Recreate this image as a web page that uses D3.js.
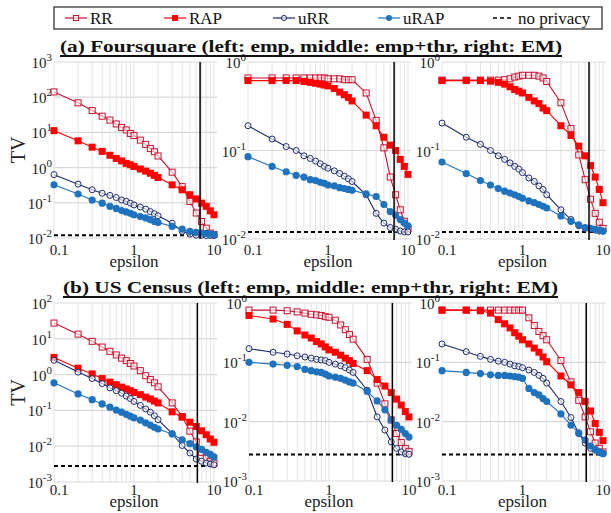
<!DOCTYPE html>
<html>
<head>
<meta charset="utf-8">
<script src="https://cdn.jsdelivr.net/npm/d3@7"></script>
<style>
  body { margin: 0; background: #fff; }
</style>
</head>
<body>
<div id="chart"></div>
<script>
// epsilon values on the x axis
const epsilons = [0.1, 0.2, 0.3, 0.4, 0.5, 0.6, 0.7, 0.8, 0.9, 1.0, 1.2, 1.4, 1.6, 1.8, 2.0, 3, 4, 5, 6, 7, 8, 9, 10]
const xTickLabels = ['0.1', '1', '10']
const seriesNames = ['RR', 'RAP', 'uRR', 'uRAP']
const titles = ['(a) Foursquare (left: emp, middle: emp+thr, right: EM)', '(b) US Census (left: emp, middle: emp+thr, right: EM)']

// TV values, stored as log10(TV)
// Foursquare, emp
const fsEmpRR   = [2.15, 1.84, 1.62, 1.46, 1.35, 1.24, 1.14, 1.07, 0.97, 0.91, 0.78, 0.66, 0.54, 0.45, 0.33, -0.13, -0.54, -0.96, -1.29, -1.53, -1.72, -1.86, -1.9]
const fsEmpRAP  = [1.05, 0.76, 0.58, 0.46, 0.35, 0.26, 0.19, 0.12, 0.08, 0.03, -0.04, -0.1, -0.16, -0.22, -0.28, -0.49, -0.63, -0.77, -0.89, -1.01, -1.1, -1.23, -1.34]
const fsEmpURR  = [-0.2, -0.47, -0.63, -0.73, -0.79, -0.85, -0.92, -0.96, -1.01, -1.06, -1.12, -1.18, -1.25, -1.31, -1.37, -1.58, -1.81, -1.89, -1.92, -1.92, -1.93, -1.93, -1.93]
const fsEmpURAP = [-0.49, -0.75, -0.92, -1.01, -1.1, -1.16, -1.22, -1.26, -1.3, -1.34, -1.39, -1.43, -1.48, -1.53, -1.56, -1.67, -1.75, -1.81, -1.84, -1.86, -1.87, -1.88, -1.9]
// Foursquare, emp+thr
const fsThrRR   = [-0.18, -0.18, -0.18, -0.18, -0.18, -0.18, -0.18, -0.18, -0.18, -0.19, -0.19, -0.19, -0.2, -0.2, -0.2, -0.35, -0.66, -0.97, -1.3, -1.5, -1.67, -1.8, -1.88]
const fsThrRAP  = [-0.21, -0.21, -0.21, -0.21, -0.22, -0.23, -0.24, -0.25, -0.26, -0.27, -0.3, -0.34, -0.37, -0.4, -0.44, -0.6, -0.72, -0.85, -0.94, -1.0, -1.1, -1.18, -1.27]
const fsThrURR  = [-0.72, -0.87, -0.955, -1.0, -1.06, -1.09, -1.12, -1.15, -1.18, -1.2, -1.23, -1.26, -1.29, -1.32, -1.35, -1.5, -1.71, -1.82, -1.87, -1.89, -1.91, -1.92, -1.92]
const fsThrURAP = [-1.07, -1.18, -1.24, -1.28, -1.3, -1.33, -1.34, -1.36, -1.37, -1.39, -1.4, -1.42, -1.43, -1.44, -1.45, -1.49, -1.52, -1.61, -1.69, -1.73, -1.78, -1.82, -1.85]
// Foursquare, EM
const fsEmRR    = [-0.205, -0.205, -0.205, -0.205, -0.205, -0.2, -0.19, -0.17, -0.16, -0.15, -0.15, -0.15, -0.16, -0.18, -0.22, -0.46, -0.75, -1.05, -1.33, -1.55, -1.71, -1.81, -1.88]
const fsEmRAP   = [-0.21, -0.21, -0.21, -0.217, -0.23, -0.25, -0.28, -0.31, -0.33, -0.35, -0.4, -0.44, -0.47, -0.52, -0.55, -0.72, -0.83, -0.95, -1.06, -1.17, -1.3, -1.44, -1.59]
const fsEmURR   = [-0.69, -0.85, -0.93, -1.0, -1.06, -1.1, -1.14, -1.18, -1.21, -1.25, -1.31, -1.35, -1.4, -1.44, -1.5, -1.67, -1.78, -1.85, -1.88, -1.89, -1.9, -1.91, -1.91]
const fsEmURAP  = [-1.13, -1.26, -1.34, -1.39, -1.43, -1.46, -1.48, -1.5, -1.52, -1.54, -1.57, -1.59, -1.61, -1.63, -1.65, -1.74, -1.8, -1.84, -1.87, -1.88, -1.89, -1.9, -1.91]
// US Census, emp
const usEmpRR   = [1.44, 1.13, 0.93, 0.77, 0.65, 0.55, 0.46, 0.39, 0.31, 0.24, 0.11, -0.03, -0.14, -0.23, -0.34, -0.79, -1.17, -1.58, -1.88, -2.17, -2.33, -2.42, -2.47]
const usEmpRAP  = [0.48, 0.18, 0.02, -0.11, -0.21, -0.28, -0.35, -0.4, -0.45, -0.5, -0.56, -0.63, -0.68, -0.74, -0.79, -1.04, -1.19, -1.33, -1.45, -1.57, -1.68, -1.8, -1.89]
const usEmpURR  = [0.4, 0.07, -0.11, -0.25, -0.37, -0.45, -0.52, -0.6, -0.67, -0.75, -0.86, -0.96, -1.05, -1.15, -1.26, -1.65, -1.98, -2.19, -2.36, -2.42, -2.47, -2.5, -2.52]
const usEmpURAP = [-0.23, -0.54, -0.7, -0.82, -0.91, -0.99, -1.05, -1.11, -1.16, -1.21, -1.27, -1.35, -1.41, -1.47, -1.52, -1.66, -1.82, -1.93, -2.02, -2.09, -2.17, -2.23, -2.3]
// US Census, emp+thr
const usThrRR   = [-0.12, -0.12, -0.13, -0.15, -0.17, -0.19, -0.2, -0.21, -0.23, -0.24, -0.29, -0.37, -0.45, -0.53, -0.61, -0.95, -1.35, -1.7, -1.97, -2.2, -2.35, -2.45, -2.5]
const usThrRAP  = [-0.21, -0.27, -0.36, -0.47, -0.54, -0.59, -0.65, -0.69, -0.74, -0.79, -0.83, -0.88, -0.93, -0.97, -1.02, -1.14, -1.29, -1.4, -1.51, -1.62, -1.72, -1.83, -1.92]
const usThrURR  = [-0.77, -0.83, -0.86, -0.89, -0.91, -0.93, -0.95, -0.96, -0.97, -1.0, -1.03, -1.06, -1.09, -1.13, -1.17, -1.47, -1.92, -2.14, -2.34, -2.45, -2.51, -2.54, -2.55]
const usThrURAP = [-1.0, -1.03, -1.05, -1.07, -1.12, -1.14, -1.16, -1.17, -1.2, -1.23, -1.25, -1.27, -1.3, -1.33, -1.35, -1.49, -1.65, -1.8, -1.97, -2.06, -2.13, -2.2, -2.26]
// US Census, EM
const usEmRR    = [-0.12, -0.12, -0.12, -0.12, -0.12, -0.12, -0.12, -0.12, -0.12, -0.12, -0.25, -0.38, -0.48, -0.55, -0.62, -0.97, -1.33, -1.64, -1.92, -2.17, -2.36, -2.45, -2.51]
const usEmRAP   = [-0.12, -0.12, -0.13, -0.17, -0.28, -0.35, -0.42, -0.5, -0.56, -0.62, -0.69, -0.76, -0.83, -0.91, -0.99, -1.23, -1.38, -1.51, -1.66, -1.82, -2.03, -2.18, -2.32]
const usEmURR   = [-0.69, -0.82, -0.9, -0.95, -0.98, -1.0, -1.03, -1.06, -1.07, -1.09, -1.13, -1.17, -1.22, -1.27, -1.35, -1.66, -1.93, -2.2, -2.36, -2.45, -2.48, -2.51, -2.53]
const usEmURAP  = [-1.14, -1.17, -1.19, -1.21, -1.22, -1.22, -1.23, -1.24, -1.25, -1.27, -1.44, -1.51, -1.55, -1.61, -1.66, -1.87, -2.06, -2.19, -2.31, -2.41, -2.47, -2.51, -2.54]

// reference lines
const fsNoPrivacy = 0.012, usNoPrivacy = 0.0028
const fsMarkEps = 6.7, usMarkEps = 6.2

const W = 611, H = 513
const FONT = '"Liberation Serif", "Times New Roman", serif'
const svg = d3.select('#chart')
              .append('svg')
              .attr('width', W)
              .attr('height', H)
              .style('font-family', FONT)

// colors / markers per series
const colors = { RR: '#c8102e', RAP: '#ff0000', uRR: '#1c2a6b', uRAP: '#1f72bd' }

// panel layout (lab = offsets of tick label / axis title below the plot)
const panels = [
  { x0: 54,  x1: 214, yT: 62,  yB: 238, lo: -2, hi: 3, data: [fsEmpRR, fsEmpRAP, fsEmpURR, fsEmpURAP], np: fsNoPrivacy, mark: fsMarkEps, tv: true, lab: [17, 29] },
  { x0: 248, x1: 408, yT: 62,  yB: 239, lo: -2, hi: 0, data: [fsThrRR, fsThrRAP, fsThrURR, fsThrURAP], np: fsNoPrivacy, mark: fsMarkEps, lab: [16, 28] },
  { x0: 442, x1: 603, yT: 62,  yB: 239, lo: -2, hi: 0, data: [fsEmRR, fsEmRAP, fsEmURR, fsEmURAP],     np: fsNoPrivacy, mark: fsMarkEps, lab: [16, 28] },
  { x0: 54,  x1: 214, yT: 303, yB: 482, lo: -3, hi: 2, data: [usEmpRR, usEmpRAP, usEmpURR, usEmpURAP], np: usNoPrivacy, mark: usMarkEps, tv: true, lab: [13, 25] },
  { x0: 249, x1: 409, yT: 303, yB: 481, lo: -3, hi: 0, data: [usThrRR, usThrRAP, usThrURR, usThrURAP], np: usNoPrivacy, mark: usMarkEps, lab: [14, 26] },
  { x0: 442, x1: 603, yT: 303, yB: 481, lo: -3, hi: 0, data: [usEmRR, usEmRAP, usEmURR, usEmURAP],     np: usNoPrivacy, mark: usMarkEps, lab: [14, 26] }
]

function drawMarker(g, name, x, y, small) {
  const s = small ? 0.85 : 1
  if (name === 'RR') {
    g.append('rect').attr('x', x - 3 * s).attr('y', y - 3 * s).attr('width', 6 * s).attr('height', 6 * s)
     .attr('fill', '#fff').attr('fill-opacity', 0.6).attr('stroke', colors.RR).attr('stroke-width', 1)
  } else if (name === 'RAP') {
    g.append('rect').attr('x', x - 3.5 * s).attr('y', y - 3.5 * s).attr('width', 7 * s).attr('height', 7 * s)
     .attr('fill', colors.RAP)
  } else if (name === 'uRR') {
    g.append('circle').attr('cx', x).attr('cy', y).attr('r', 3 * s)
     .attr('fill', '#fff').attr('fill-opacity', 0.6).attr('stroke', colors.uRR).attr('stroke-width', 1)
  } else {
    g.append('circle').attr('cx', x).attr('cy', y).attr('r', 3.6 * s).attr('fill', colors.uRAP)
  }
}

panels.forEach(p => {
  const g = svg.append('g')
  const xScale = d3.scaleLog().domain([0.1, 10]).range([p.x0, p.x1])
  const yScale = d3.scaleLog().domain([Math.pow(10, p.lo), Math.pow(10, p.hi)]).range([p.yB, p.yT])

  // vertical grid (minor + major)
  g.selectAll('.vg').data(xScale.ticks()).join('line')
   .attr('x1', d => xScale(d)).attr('x2', d => xScale(d))
   .attr('y1', p.yT).attr('y2', p.yB)
   .attr('stroke', '#e3e3e3').attr('stroke-width', 1)

  // horizontal grid at decades
  const decades = d3.range(p.lo, p.hi + 1).map(e => Math.pow(10, e))
  g.selectAll('.hg').data(decades).join('line')
   .attr('x1', p.x0).attr('x2', p.x1 + 3)
   .attr('y1', d => yScale(d)).attr('y2', d => yScale(d))
   .attr('stroke', '#d9d9d9').attr('stroke-width', 1.2)

  // y tick labels 10^k
  decades.forEach(d => {
    const e = Math.round(Math.log10(d))
    const t = g.append('text').attr('x', p.x0 - 2).attr('y', yScale(d) + 6)
               .attr('text-anchor', 'end').attr('font-size', 15).attr('fill', '#222')
    t.append('tspan').text('10')
    t.append('tspan').attr('dy', -7).attr('font-size', 11).text(e)
  })

  // x tick labels
  g.selectAll('.xl').data(xTickLabels).join('text')
   .attr('x', (d, i) => xScale(+d) + (i === 0 ? 5 : 0))
   .attr('y', p.yB + p.lab[0])
   .attr('text-anchor', 'middle').attr('font-size', 15).attr('fill', '#222')
   .text(d => d)

  g.append('text').attr('x', (p.x0 + p.x1) / 2).attr('y', p.yB + p.lab[1])
   .attr('text-anchor', 'middle').attr('font-size', 17).attr('fill', '#222')
   .text('epsilon')

  if (p.tv) {
    g.append('text')
     .attr('transform', `translate(25,${(p.yT + p.yB) / 2}) rotate(-90)`)
     .attr('text-anchor', 'middle').attr('font-size', 20).attr('fill', '#222')
     .text('TV')
  }

  // no privacy line
  g.append('line').attr('x1', p.x0).attr('x2', p.x1 + 3)
   .attr('y1', yScale(p.np)).attr('y2', yScale(p.np))
   .attr('stroke', '#000').attr('stroke-width', 2).attr('stroke-dasharray', '4,3')

  // series
  p.data.forEach((vals, si) => {
    const name = seriesNames[si]
    const pts = vals.map((v, i) => [epsilons[i], Math.pow(10, v)])
    g.append('path')
     .attr('fill', 'none')
     .attr('stroke', colors[name])
     .attr('stroke-width', 1.1)
     .attr('d', d3.line().x(d => xScale(d[0])).y(d => yScale(d[1]))(pts))
    const mg = g.append('g')
    pts.forEach(d => drawMarker(mg, name, xScale(d[0]), yScale(d[1])))
  })

  // vertical marker line
  g.append('line').attr('x1', xScale(p.mark)).attr('x2', xScale(p.mark))
   .attr('y1', p.yT).attr('y2', p.yB + 1)
   .attr('stroke', '#000').attr('stroke-width', 1.5)
})

// titles with underline (the original is stretched wide)
const titleY = [52, 293], titleW = [502, 495], titleX = [311, 310.5]
titles.forEach((t, i) => {
  svg.append('text').attr('x', titleX[i]).attr('y', titleY[i])
     .attr('text-anchor', 'middle').attr('font-size', 17.5).attr('font-weight', 'bold')
     .attr('textLength', titleW[i]).attr('lengthAdjust', 'spacingAndGlyphs')
     .attr('fill', '#111').text(t)
  svg.append('line').attr('x1', titleX[i] - titleW[i] / 2).attr('x2', titleX[i] + titleW[i] / 2)
     .attr('y1', titleY[i] + 4).attr('y2', titleY[i] + 4)
     .attr('stroke', '#111').attr('stroke-width', 2.2)
})

// legend
const legend = svg.append('g')
legend.append('rect').attr('x', 54).attr('y', 7).attr('width', 548).attr('height', 22)
      .attr('fill', '#fff').attr('stroke', '#222').attr('stroke-width', 1.2)
const legX = [65, 164, 273, 378]
seriesNames.forEach((name, i) => {
  const x = legX[i]
  legend.append('line').attr('x1', x).attr('x2', x + 22).attr('y1', 18).attr('y2', 18)
        .attr('stroke', colors[name]).attr('stroke-width', 1.2)
  drawMarker(legend, name, x + 11, 18, true)
  legend.append('text').attr('x', x + 25).attr('y', 24).attr('font-size', 17).attr('fill', '#111').text(name)
})
legend.append('line').attr('x1', 493).attr('x2', 513).attr('y1', 18).attr('y2', 18)
      .attr('stroke', '#000').attr('stroke-width', 1.6).attr('stroke-dasharray', '4,3')
legend.append('text').attr('x', 518).attr('y', 24).attr('font-size', 17).attr('fill', '#111').text('no privacy')
</script>
</body>
</html>
